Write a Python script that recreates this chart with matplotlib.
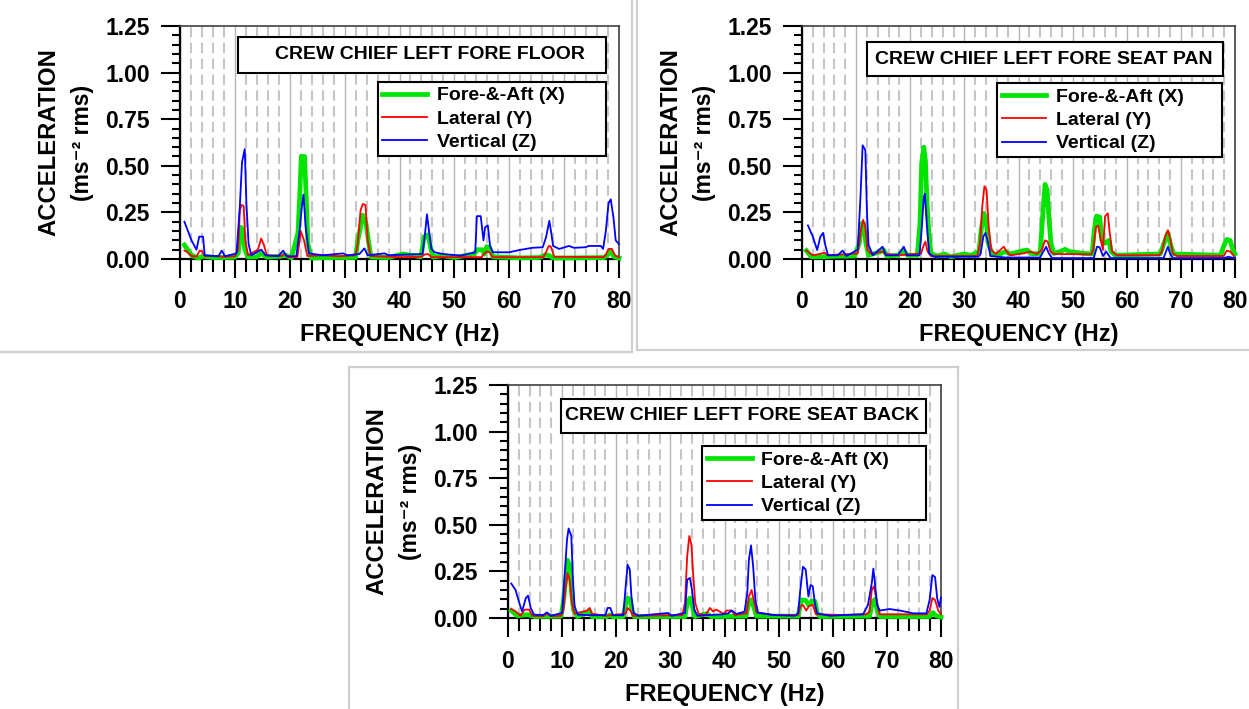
import numpy as np
import matplotlib; matplotlib.use('Agg')
import matplotlib.pyplot as plt
from matplotlib.patches import Rectangle
from matplotlib.lines import Line2D
from matplotlib.ticker import MultipleLocator, FormatStrFormatter
import matplotlib.transforms as mtrans

# (frequency Hz, rms acceleration)
floor_x = [(0.8,0.075),(2.1,0.02),(3.3,0.005),(4.2,0.015),(6.0,0.008),(8.0,0.008),(10.0,0.01),(10.6,0.03),(11.1,0.17),
           (11.4,0.155),(11.8,0.05),(12.4,0.01),(14.0,0.012),(14.8,0.03),(15.8,0.01),(18.5,0.015),(19.2,0.022),(20.3,0.005),
           (21.5,0.14),(21.8,0.33),(22.1,0.55),(22.7,0.55),(23.0,0.33),(23.3,0.085),(23.9,0.005),(28.0,0.008),(32.0,0.008),
           (32.4,0.10),(32.9,0.17),(33.3,0.235),(33.9,0.19),(34.4,0.085),(34.8,0.01),(38.0,0.008),(40.6,0.027),(43.9,0.012),
           (44.5,0.12),(45.2,0.13),(45.6,0.07),(46.1,0.01),(47.9,0.018),(50.0,0.008),(53.6,0.027),(54.2,0.05),(55.0,0.05),
           (55.5,0.027),(55.9,0.066),(56.4,0.063),(57.0,0.012),(62.0,0.006),(65.5,0.008),(66.7,0.023),(67.3,0.018),(68.0,0.005),
           (72.0,0.006),(77.3,0.008),(77.9,0.023),(78.5,0.04),(79.1,0.012),(80.0,0.005)]
floor_y = [(0.8,0.045),(1.2,0.04),(2.1,0.016),(3.0,0.012),(3.6,0.045),(4.1,0.04),(4.5,0.016),(5.8,0.016),(8.0,0.012),
           (10.0,0.015),(10.6,0.05),(10.9,0.26),(11.2,0.29),(11.6,0.285),(11.9,0.10),(12.4,0.02),(14.2,0.05),(14.8,0.11),
           (15.3,0.075),(15.8,0.02),(18.5,0.016),(19.1,0.027),(19.7,0.01),(21.4,0.01),(22.0,0.15),(22.6,0.10),(23.2,0.016),
           (26.0,0.02),(29.0,0.015),(32.0,0.02),(32.4,0.085),(32.9,0.26),(33.3,0.295),(33.8,0.29),(34.2,0.10),(34.7,0.016),
           (40.0,0.01),(44.0,0.012),(44.5,0.023),(45.2,0.027),(45.8,0.01),(55.0,0.01),(55.2,0.023),(55.9,0.04),(56.4,0.036),
           (57.0,0.01),(66.2,0.01),(66.7,0.036),(67.2,0.07),(67.6,0.066),(68.2,0.012),(77.2,0.01),(77.6,0.023),(78.1,0.054),
           (78.7,0.054),(79.3,0.018),(80.0,0.01)]
floor_z = [(0.8,0.20),(2.1,0.10),(3.0,0.05),(3.5,0.12),(4.2,0.12),(4.5,0.02),(7.0,0.015),(7.6,0.045),(8.2,0.015),
           (10.3,0.03),(10.9,0.28),(11.3,0.52),(11.8,0.59),(12.1,0.30),(12.5,0.08),(13.0,0.02),(14.8,0.05),(15.6,0.02),
           (17.9,0.015),(18.8,0.045),(19.4,0.015),(21.2,0.015),(21.8,0.155),(22.2,0.28),(22.5,0.345),(22.9,0.17),(23.5,0.03),
           (26.0,0.02),(29.7,0.03),(30.5,0.02),(32.7,0.027),(33.6,0.057),(34.2,0.02),(37.3,0.03),(38.0,0.02),(44.2,0.027),
           (44.7,0.15),(45.0,0.24),(45.3,0.17),(45.8,0.054),(46.4,0.036),(47.9,0.027),(51.2,0.018),(53.8,0.036),(54.1,0.23),
           (54.8,0.23),(55.3,0.10),(55.6,0.17),(56.1,0.18),(56.5,0.07),(57.0,0.036),(60.0,0.036),(61.8,0.048),(64.2,0.06),
           (66.1,0.063),(66.7,0.116),(67.3,0.205),(67.6,0.15),(68.0,0.07),(69.1,0.054),(70.9,0.07),(71.8,0.06),(73.9,0.063),
           (74.5,0.07),(76.7,0.07),(77.1,0.054),(77.6,0.15),(78.1,0.30),(78.5,0.32),(79.0,0.22),(79.4,0.10),(80.0,0.08)]

pan_x = [(0.8,0.045),(1.7,0.012),(4.2,0.012),(6.0,0.015),(9.7,0.016),(10.6,0.085),(11.0,0.19),(11.4,0.19),(11.8,0.085),
         (12.3,0.02),(14.6,0.04),(15.1,0.048),(15.7,0.016),(17.7,0.02),(18.8,0.045),(19.5,0.02),(21.3,0.02),(21.8,0.19),
         (22.1,0.51),(22.5,0.60),(22.8,0.53),(23.1,0.30),(23.4,0.155),(23.8,0.03),(25.0,0.016),(26.3,0.027),(27.5,0.012),
         (29.9,0.027),(31.2,0.02),(32.7,0.04),(33.1,0.155),(33.6,0.245),(34.0,0.21),(34.5,0.075),(35.2,0.027),(36.1,0.02),
         (37.6,0.04),(38.5,0.027),(40.9,0.045),(41.6,0.048),(42.5,0.027),(44.0,0.03),(44.5,0.245),(44.9,0.40),(45.3,0.37),
         (45.6,0.23),(46.0,0.085),(46.5,0.03),(47.7,0.04),(48.6,0.052),(49.4,0.04),(52.0,0.03),(53.6,0.027),(54.0,0.155),
         (54.4,0.23),(55.0,0.225),(55.4,0.10),(56.0,0.085),(56.7,0.10),(57.1,0.04),(57.9,0.02),(66.2,0.027),(66.9,0.085),
         (67.6,0.14),(68.1,0.075),(68.7,0.027),(77.3,0.02),(78.0,0.075),(78.5,0.105),(79.1,0.10),(79.6,0.048),(80.0,0.027)]
pan_y = [(0.8,0.045),(2.0,0.02),(3.3,0.027),(4.1,0.034),(4.8,0.02),(10.3,0.03),(10.9,0.155),(11.3,0.21),(11.7,0.17),
         (12.1,0.048),(12.8,0.027),(14.9,0.04),(15.5,0.027),(18.0,0.02),(22.0,0.03),(22.5,0.075),(22.8,0.093),(23.2,0.04),
         (23.8,0.016),(32.4,0.016),(32.9,0.085),(33.3,0.28),(33.7,0.39),(34.1,0.37),(34.5,0.17),(35.0,0.048),(35.8,0.027),
         (37.3,0.066),(37.8,0.04),(38.5,0.02),(40.9,0.03),(42.2,0.04),(43.4,0.027),(44.3,0.048),(44.9,0.10),(45.4,0.093),
         (45.9,0.04),(46.6,0.027),(53.4,0.025),(53.8,0.048),(54.3,0.17),(54.7,0.18),(55.1,0.12),(55.6,0.048),(56.0,0.23),
         (56.5,0.245),(56.8,0.155),(57.3,0.04),(58.2,0.02),(66.0,0.02),(66.5,0.04),(67.1,0.12),(67.6,0.155),(68.1,0.10),
         (68.5,0.03),(69.3,0.016),(77.9,0.016),(78.5,0.045),(79.1,0.04),(79.8,0.016)]
pan_z = [(1.1,0.18),(2.0,0.12),(2.8,0.048),(3.4,0.12),(3.9,0.14),(4.3,0.075),(4.8,0.02),(6.6,0.02),(7.5,0.045),(8.2,0.016),
         (10.3,0.05),(10.8,0.33),(11.2,0.61),(11.7,0.585),(12.0,0.25),(12.3,0.075),(13.1,0.02),(14.9,0.066),(15.5,0.02),
         (17.7,0.02),(18.8,0.066),(19.4,0.02),(21.7,0.02),(22.1,0.155),(22.5,0.33),(22.7,0.35),(23.1,0.17),(23.5,0.03),
         (24.4,0.012),(32.6,0.012),(33.0,0.027),(33.5,0.12),(33.9,0.14),(34.4,0.085),(34.8,0.016),(37.6,0.008),(44.0,0.008),
         (44.6,0.04),(45.1,0.066),(45.6,0.03),(46.2,0.005),(53.9,0.005),(54.5,0.066),(55.0,0.063),(55.6,0.016),(56.2,0.04),
         (57.0,0.005),(66.8,0.005),(67.6,0.066),(68.0,0.03),(68.5,0.005),(77.9,0.005),(78.8,0.012),(80.0,0.004)]

back_x = [(0.6,0.04),(1.7,0.012),(3.6,0.018),(5.0,0.008),(9.8,0.01),(10.2,0.08),(10.6,0.19),(11.0,0.31),(11.4,0.28),
          (11.7,0.15),(12.1,0.045),(12.8,0.008),(14.6,0.027),(15.1,0.036),(15.5,0.008),(18.3,0.008),(18.8,0.016),(19.5,0.006),
          (21.3,0.008),(21.8,0.08),(22.1,0.107),(22.6,0.098),(22.9,0.045),(23.3,0.008),(32.7,0.008),(33.1,0.08),(33.6,0.107),
          (34.0,0.07),(34.5,0.008),(36.7,0.023),(37.5,0.008),(44.0,0.01),(44.4,0.07),(44.9,0.097),(45.4,0.06),(45.9,0.01),
          (53.6,0.01),(54.2,0.097),(55.0,0.095),(55.5,0.07),(56.1,0.09),(56.7,0.09),(57.1,0.029),(57.6,0.008),(66.8,0.01),
          (67.3,0.08),(67.8,0.10),(68.2,0.043),(68.7,0.008),(77.9,0.008),(78.5,0.029),(79.1,0.012),(80.0,0.005)]
back_y = [(0.6,0.048),(1.4,0.036),(2.3,0.012),(3.1,0.045),(3.9,0.045),(4.5,0.012),(6.5,0.01),(7.2,0.023),(7.9,0.01),
          (9.8,0.012),(10.2,0.036),(10.6,0.15),(11.0,0.24),(11.4,0.205),(11.8,0.08),(12.3,0.023),(14.6,0.04),(15.1,0.054),
          (15.5,0.023),(18.0,0.012),(21.7,0.023),(22.1,0.054),(22.6,0.04),(23.1,0.012),(32.2,0.015),(32.7,0.08),(33.1,0.33),
          (33.5,0.44),(33.9,0.39),(34.2,0.24),(34.6,0.08),(35.2,0.023),(36.5,0.015),(37.3,0.054),(37.9,0.036),(38.5,0.045),
          (39.8,0.023),(40.4,0.04),(41.3,0.04),(41.9,0.016),(44.1,0.025),(44.5,0.115),(45.0,0.15),(45.4,0.097),(45.9,0.03),
          (49.0,0.016),(53.6,0.016),(54.0,0.063),(54.5,0.07),(55.1,0.04),(55.6,0.063),(56.3,0.07),(56.9,0.02),(62.0,0.016),
          (66.2,0.02),(66.8,0.034),(67.2,0.15),(67.6,0.17),(68.1,0.097),(68.6,0.02),(72.0,0.02),(77.4,0.02),(77.9,0.04),
          (78.4,0.107),(78.9,0.097),(79.5,0.04),(80.0,0.02)]
back_z = [(0.6,0.185),(1.4,0.15),(2.2,0.07),(2.6,0.036),(3.3,0.107),(3.7,0.12),(4.2,0.054),(4.8,0.018),(6.5,0.016),
          (7.2,0.03),(7.9,0.012),(10.0,0.027),(10.5,0.24),(10.9,0.42),(11.2,0.48),(11.7,0.44),(12.0,0.205),(12.3,0.063),
          (12.9,0.018),(15.0,0.015),(18.0,0.015),(18.4,0.054),(18.9,0.054),(19.4,0.015),(21.3,0.015),(21.8,0.19),(22.1,0.285),
          (22.5,0.26),(22.8,0.116),(23.2,0.027),(24.1,0.012),(29.6,0.027),(30.2,0.012),(32.7,0.027),(33.1,0.205),(33.6,0.215),
          (34.0,0.15),(34.4,0.045),(35.0,0.012),(39.7,0.02),(40.7,0.025),(41.3,0.04),(42.2,0.022),(43.7,0.034),(44.2,0.13),
          (44.5,0.31),(44.9,0.39),(45.3,0.275),(45.7,0.097),(46.2,0.029),(49.0,0.016),(53.0,0.012),(53.6,0.025),(54.0,0.15),
          (54.5,0.275),(55.0,0.26),(55.5,0.115),(55.9,0.177),(56.3,0.17),(56.7,0.08),(57.1,0.025),(59.5,0.012),(61.9,0.016),
          (65.6,0.02),(66.5,0.07),(67.2,0.185),(67.5,0.265),(67.8,0.185),(68.2,0.07),(68.7,0.04),(70.5,0.048),(72.4,0.04),
          (74.9,0.025),(77.3,0.025),(77.9,0.097),(78.4,0.23),(78.9,0.22),(79.3,0.105),(79.7,0.06),(80.0,0.11)]

titles = ['CREW CHIEF LEFT FORE FLOOR', 'CREW CHIEF LEFT FORE SEAT PAN', 'CREW CHIEF LEFT FORE SEAT BACK']
labels = ['Fore-&-Aft (X)', 'Lateral (Y)', 'Vertical (Z)']

plt.rcParams['font.family'] = ['Liberation Sans', 'DejaVu Sans']
plt.rcParams['font.weight'] = 'bold'
W, H = 1249, 709
fig = plt.figure(figsize=(W/100, H/100), dpi=100)
PT = 0.72  # points per pixel

def fr(x0, y0, x1, y1):  # pixel box -> figure fraction
    return [x0/W, 1-y1/H, (x1-x0)/W, (y1-y0)/H]

# gray frames around the panels
gray = '#cfcfcf'
for xs, ys in [([632,632],[0,352]), ([0,632],[352,352]), ([637,637],[0,350]), ([637,1249],[350,350]),
               ([349,349],[367,709]), ([349,958],[367,367]), ([958,958],[367,709])]:
    fig.add_artist(Line2D([x/W for x in xs], [1-y/H for y in ys], color=gray, lw=1.6))

panels = [
    dict(box=(180,26,619,259), data=(floor_x,floor_y,floor_z), tb=(0.132,0.80,0.838,0.153), tc=0.569, leg=(0.45,0.76,0.52)),
    dict(box=(802,26,1235,259), data=(pan_x,pan_y,pan_z), tb=(0.15,0.785,0.822,0.145), tc=0.558, leg=(0.45,0.755,0.52)),
    dict(box=(508,385,941,618), data=(back_x,back_y,back_z), tb=(0.122,0.794,0.843,0.146), tc=0.5416, leg=(0.448,0.738,0.517)),
]
styles = [('#00e400', 3.4), ('#ff0000', 1.3), ('#0000ff', 1.3)]

for p, title in zip(panels, titles):
    ax = fig.add_axes(fr(*p['box']))
    for ser, (c, lw), lab in zip(p['data'], styles, labels):
        a = np.array(ser)
        ax.plot(a[:,0], a[:,1], color=c, lw=lw, label=lab, clip_on=False, zorder=3)
    ax.set_xlim(0, 80); ax.set_ylim(0, 1.25)
    ax.xaxis.set_major_locator(MultipleLocator(10)); ax.xaxis.set_minor_locator(MultipleLocator(2))
    ax.yaxis.set_major_locator(MultipleLocator(0.25)); ax.yaxis.set_minor_locator(MultipleLocator(0.05))
    ax.yaxis.set_major_formatter(FormatStrFormatter('%.2f'))
    ax.tick_params(which='major', direction='out', length=19*PT, width=1.5, labelsize=16.5)
    ax.tick_params(axis='x', which='major', pad=9)
    ax.tick_params(axis='y', which='major', pad=8)
    ax.tick_params(axis='x', which='minor', direction='out', length=13*PT, width=1.5)
    ax.tick_params(axis='y', which='minor', direction='out', length=8*PT, width=1.5)
    ax.grid(True, which='major', axis='x', color='#b4b4b4', lw=1.0)
    ax.grid(True, which='minor', axis='x', color='#c6c6c6', lw=1.5, ls=(0, (5, 2.6)))
    ax.set_axisbelow(True)
    for s in ['left', 'bottom']:
        ax.spines[s].set_linewidth(1.6); ax.spines[s].set_color('black')
    for s in ['top', 'right']:
        ax.spines[s].set_linewidth(1.2); ax.spines[s].set_color('#404040')
    # title box
    x0, y0, w, h = p['tb']
    ax.add_patch(Rectangle((x0, y0), w, h, transform=ax.transAxes, facecolor='white', edgecolor='black', lw=1.5, zorder=5))
    ax.text(p['tc'], y0+h/2, title, transform=ax.transAxes, ha='center', va='center', fontsize=14, zorder=6)
    lx, ly, lw_ = p['leg']
    leg = ax.legend(loc='upper left', bbox_to_anchor=(lx, ly-0.3, lw_, 0.3), mode='expand', borderaxespad=0,
                    fontsize=14, fancybox=False, edgecolor='black', framealpha=1, handlelength=2.3,
                    handletextpad=0.5, labelspacing=0.3, borderpad=0.25)
    leg.get_frame().set_linewidth(1.5)
    leg.set_zorder(6)
    # axis labels
    t1 = mtrans.offset_copy(ax.transAxes, fig=fig, x=-131.5*PT, y=0, units='points')
    ax.text(0, 0.5, 'ACCELERATION', transform=t1, rotation=90, ha='center', va='center', fontsize=17.2)
    t2 = mtrans.offset_copy(ax.transAxes, fig=fig, x=-97*PT, y=0, units='points')
    ax.text(0, 0.5, '(ms\u207b\u00b2 rms)', transform=t2, rotation=90, ha='center', va='center', fontsize=16.5)
    t3 = mtrans.offset_copy(ax.transAxes, fig=fig, x=0, y=-76*PT, units='points')
    ax.text(0.5, 0, 'FREQUENCY (Hz)', transform=t3, ha='center', va='center', fontsize=17)

fig.savefig('out.png', dpi=100, facecolor='white')
